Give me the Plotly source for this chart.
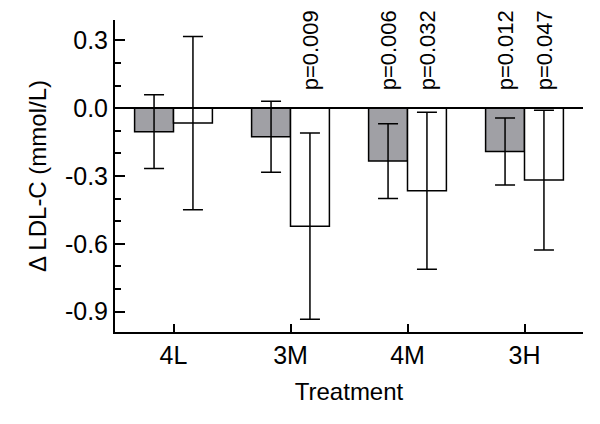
import plotly.graph_objects as go

categories = ["4L", "3M", "4M", "3H"]
gray_means = [-0.104, -0.126, -0.234, -0.192]
gray_err = [0.163, 0.157, 0.165, 0.148]
white_means = [-0.066, -0.522, -0.365, -0.318]
white_err = [0.383, 0.412, 0.347, 0.309]
p_gray = [None, None, "p=0.006", "p=0.012"]
p_white = [None, "p=0.009", "p=0.032", "p=0.047"]
y_tick_vals = [-0.9, -0.6, -0.3, 0.0, 0.3]
y_tick_text = ["-0.9", "-0.6", "-0.3", "0.0", "0.3"]

FONT = "Liberation Sans, Arial, sans-serif"

fig = go.Figure()
fig.add_trace(go.Bar(
    x=categories, y=gray_means, name="gray",
    marker=dict(color="#a0a0a5", line=dict(color="black", width=1.5)),
    error_y=dict(type="data", array=gray_err, visible=True, color="black", thickness=1.5, width=10),
))
fig.add_trace(go.Bar(
    x=categories, y=white_means, name="white",
    marker=dict(color="white", line=dict(color="black", width=1.5)),
    error_y=dict(type="data", array=white_err, visible=True, color="black", thickness=1.5, width=10),
))

annotations = []
for cat, pg, pw in zip(categories, p_gray, p_white):
    for txt, shift in ((pg, -19.5), (pw, 19.5)):
        if txt:
            annotations.append(dict(
                x=cat, xref="x", y=0.07, yref="y", text=txt, textangle=-90,
                xshift=shift, yanchor="bottom", xanchor="center", showarrow=False,
                font=dict(family=FONT, size=22, color="black"),
            ))

fig.update_layout(
    width=600, height=424,
    margin=dict(l=115, r=17, t=20, b=92),
    paper_bgcolor="white", plot_bgcolor="white",
    barmode="group", bargap=0.335, bargroupgap=0,
    showlegend=False,
    font=dict(family=FONT, size=24, color="black"),
    annotations=annotations,
    xaxis=dict(
        range=[-0.5, 3.5], showline=True, linecolor="black", linewidth=2,
        ticks="inside", ticklen=8, tickwidth=1.5, tickcolor="black",
        showgrid=False, zeroline=False,
        title=dict(text="Treatment", standoff=15, font=dict(size=24)),
        tickfont=dict(size=25),
    ),
    yaxis=dict(
        range=[-0.99, 0.39], showline=True, linecolor="black", linewidth=2,
        ticks="inside", ticklen=10, tickwidth=1.5, tickcolor="black",
        tickmode="array", tickvals=y_tick_vals, ticktext=y_tick_text,
        minor=dict(dtick=0.1, tick0=0, ticks="inside", ticklen=6, tickwidth=1.5, tickcolor="black", showgrid=False),
        showgrid=False, zeroline=True, zerolinecolor="black", zerolinewidth=1.5,
        title=dict(text="Δ LDL-C (mmol/L)", standoff=12, font=dict(size=24)),
        tickfont=dict(size=25),
    ),
)

fig.write_html("out.html", config={"displayModeBar": False},
               post_script="document.body.style.margin='0';")
